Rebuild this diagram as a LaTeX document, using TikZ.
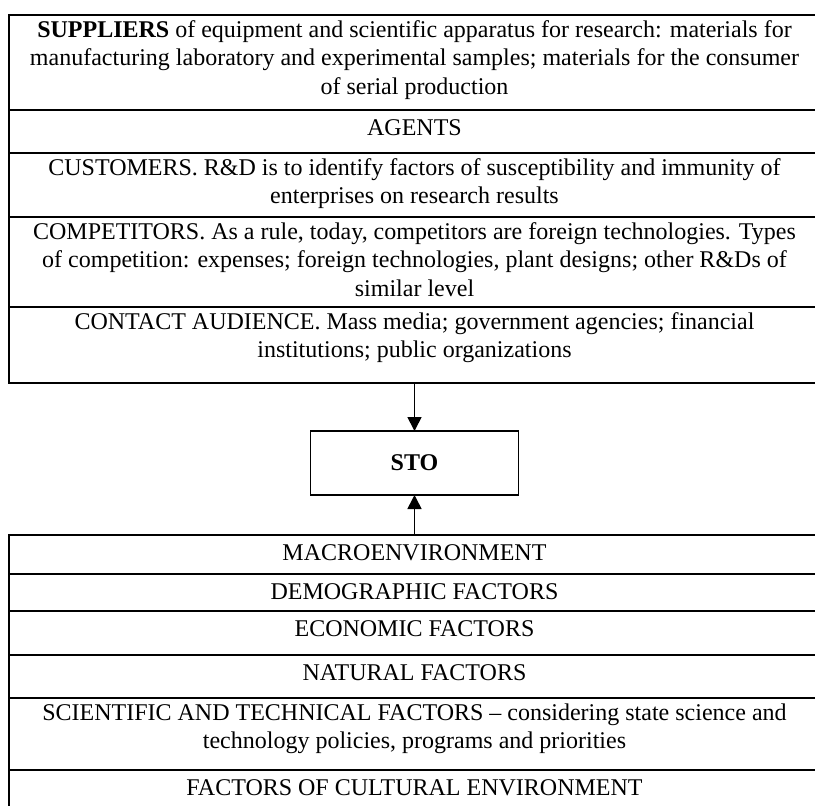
\documentclass[tikz,border=0pt]{standalone}
\usepackage{fontspec}
\setmainfont{Liberation Serif}
\usetikzlibrary{positioning,arrows.meta}

%% #1: depth of the first baseline, #2: height of the row, #3: text
\newcommand{\rowText}[3][12.75pt]{\parbox[c][#2][t]{400pt}{\centering\rule{0pt}{#1}#3}}

\begin{document}
\begin{tikzpicture}[%%
  rowStyle/.style={draw,line width=0.9pt,inner xsep=2.75pt,inner ysep=0pt,outer sep=0pt,anchor=north},%%
  stoStyle/.style={draw,line width=0.9pt,minimum width=104pt,minimum height=32pt,inner sep=0pt,outer sep=0pt,font=\bfseries},%%
  arrowStyle/.style={-{Triangle[length=7pt,width=7pt]},line width=0.85pt}%%
]
%%
\useasboundingbox (0,0) rectangle (407.5pt,-402.5pt);
\fontsize{12}{14.25}\selectfont
%%
%% Microenvironment of the organization.
\node[rowStyle] (suppliers) at (207.25pt,-7.5pt) {\rowText[11pt]{47.5pt}{\textbf{SUPPLIERS} of equipment and scientific apparatus for research: materials for\\
  manufacturing laboratory and experimental samples; materials for the consumer\\
  of serial production}};
\node[rowStyle,below=0pt of suppliers] (agents) {\rowText{21.5pt}{AGENTS}};
\node[rowStyle,below=0pt of agents] (customers) {\rowText[11pt]{32pt}{CUSTOMERS. R\&D is to identify factors of susceptibility and immunity of\\
  enterprises on research results}};
\node[rowStyle,below=0pt of customers] (competitors) {\rowText[11pt]{45pt}{COMPETITORS. As a rule, today, competitors are foreign technologies. Types\\
  of competition: expenses; foreign technologies, plant designs; other R\&Ds of\\
  similar level}};
\node[rowStyle,below=0pt of competitors] (contact) {\rowText[11pt]{38pt}{CONTACT AUDIENCE. Mass media; government agencies; financial\\
  institutions; public organizations}};
%%
%% The organization itself.
\node[stoStyle,below=24pt of contact] (sto) {STO};
%%
%% Macroenvironment.
\node[rowStyle,below=20pt of sto] (macro) {\rowText{19.5pt}{MACROENVIRONMENT}};
\node[rowStyle,below=0pt of macro] (demographic) {\rowText{18.5pt}{DEMOGRAPHIC FACTORS}};
\node[rowStyle,below=0pt of demographic] (economic) {\rowText{22pt}{ECONOMIC FACTORS}};
\node[rowStyle,below=0pt of economic] (natural) {\rowText{21.5pt}{NATURAL FACTORS}};
\node[rowStyle,below=0pt of natural] (scientific) {\rowText[11pt]{36pt}{SCIENTIFIC AND TECHNICAL FACTORS – considering state science and\\
  technology policies, programs and priorities}};
\node[rowStyle,below=0pt of scientific] (cultural) {\rowText{24pt}{FACTORS OF CULTURAL ENVIRONMENT}};
%%
%% Both environments act on the organization.
\draw[arrowStyle] (contact) -- (sto);
\draw[arrowStyle] (macro) -- (sto);
\end{tikzpicture}
\end{document}
